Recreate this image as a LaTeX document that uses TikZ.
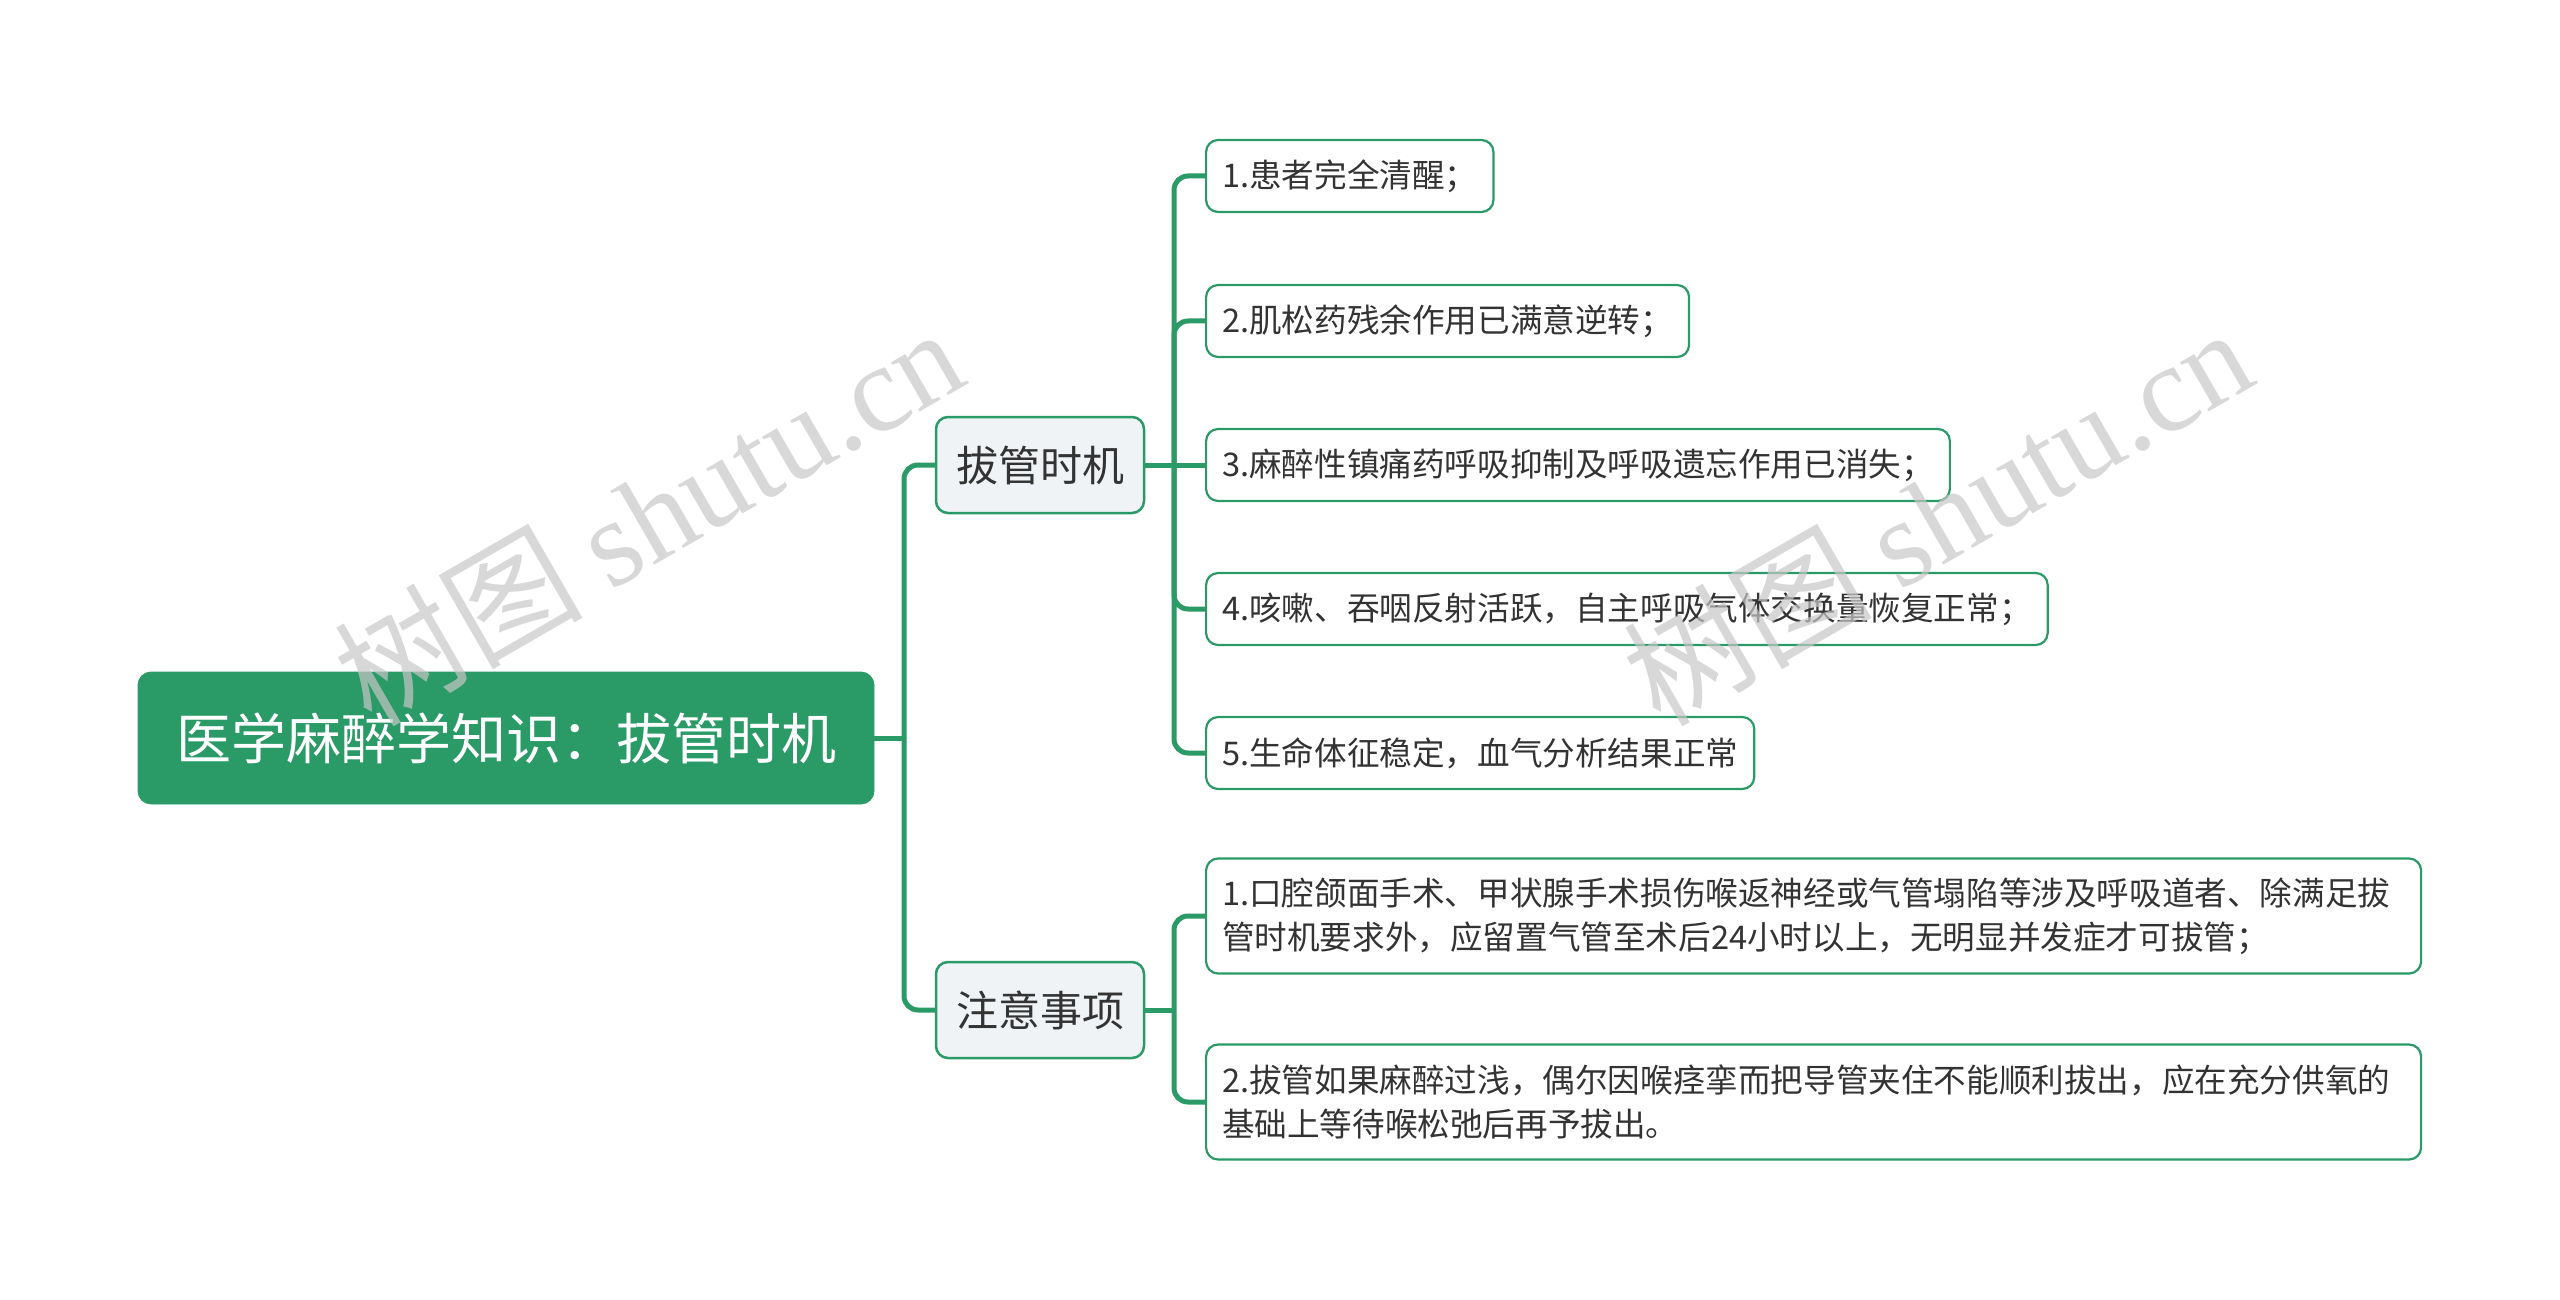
\documentclass[tikz,border=0pt]{standalone}
\usepackage{fontspec}
\setmainfont{Noto Sans CJK SC}
\newfontfamily\stampserif{Liberation Serif}
\usepackage{xcolor}
\usepackage{tikz}
\usetikzlibrary{positioning}

\definecolor{mapgreen}{HTML}{2A9A66}
\definecolor{topicgray}{HTML}{EFF3F6}
\definecolor{inktext}{HTML}{333333}

\tikzset{
  rootbox/.style={draw=mapgreen, fill=mapgreen, rounded corners=6.5pt, text=white,
    minimum width=368pt, minimum height=66pt, font=\fontsize{27.5}{33}\selectfont},
  topicbox/.style={draw=mapgreen, line width=1.25pt, fill=topicgray, rounded corners=6pt,
    text=inktext, minimum width=104pt, minimum height=48pt, font=\fontsize{21}{25}\selectfont},
  leafbox/.style={draw=mapgreen, line width=1.1pt, fill=white, rounded corners=6pt,
    text=inktext, anchor=west, minimum height=36pt, inner xsep=8pt,
    font=\fontsize{16.3}{22}\selectfont},
  notebox/.style={leafbox, minimum height=57.5pt, text width=591.5pt, align=left},
  link/.style={draw=mapgreen, line width=2.5pt, rounded corners=7pt},
  stamp/.style={text=black!22, opacity=0.7, rotate=30, font=\fontsize{62}{62}\selectfont}
}

\begin{document}
\begin{tikzpicture}[x=0.5pt, y=-0.5pt]
        \useasboundingbox (0,0) rectangle (2560,1300);

        % nodes
        \node[rootbox] (root) at (506,738) {医学麻醉学知识：拔管时机};
        \node[topicbox] (timing) at (1040,465) {拔管时机};
        \node[topicbox] (notes) at (1040,1010) {注意事项};

        \node[leafbox] (t1) at (1205,176) {1.患者完全清醒；};
        \node[leafbox] (t2) at (1205,321) {2.肌松药残余作用已满意逆转；};
        \node[leafbox] (t3) at (1205,465) {3.麻醉性镇痛药呼吸抑制及呼吸遗忘作用已消失；};
        \node[leafbox] (t4) at (1205,609) {4.咳嗽、吞咽反射活跃，自主呼吸气体交换量恢复正常；};
        \node[leafbox] (t5) at (1205,753) {5.生命体征稳定，血气分析结果正常};

        \node[notebox] (n1) at (1205,916) {1.口腔颌面手术、甲状腺手术损伤喉返神经或气管塌陷等涉及呼吸道者、除满足拔\\管时机要求外，应留置气管至术后24小时以上，无明显并发症才可拔管；};
        \node[notebox] (n2) at (1205,1102) {2.拔管如果麻醉过浅，偶尔因喉痉挛而把导管夹住不能顺利拔出，应在充分供氧的\\基础上等待喉松弛后再予拔出。};

        % connectors
        \coordinate (trunk) at (904,738);
        \coordinate (spineA) at (1174,465);
        \coordinate (spineB) at (1174,1010);

        \draw[link] (root.east) -- (trunk);
        \draw[link] (timing.west) -| (trunk) |- (notes.west);

        \draw[link] (timing.east) -- (spineA);
        \foreach \leaf in {t1,t2,t4,t5}
            \draw[link] (\leaf.west) -| (spineA);
        \draw[link] (spineA) -- (t3.west);

        \draw[link] (notes.east) -- (spineB);
        \foreach \leaf in {n1,n2}
            \draw[link] (\leaf.west) -| (spineB);

        % watermarks
        \node[stamp] (stampA) at (648,515) {树图 {\stampserif shutu.cn}};
        \node[stamp] (stampB) at (1937,515) {树图 {\stampserif shutu.cn}};

    \end{tikzpicture}
\end{document}
